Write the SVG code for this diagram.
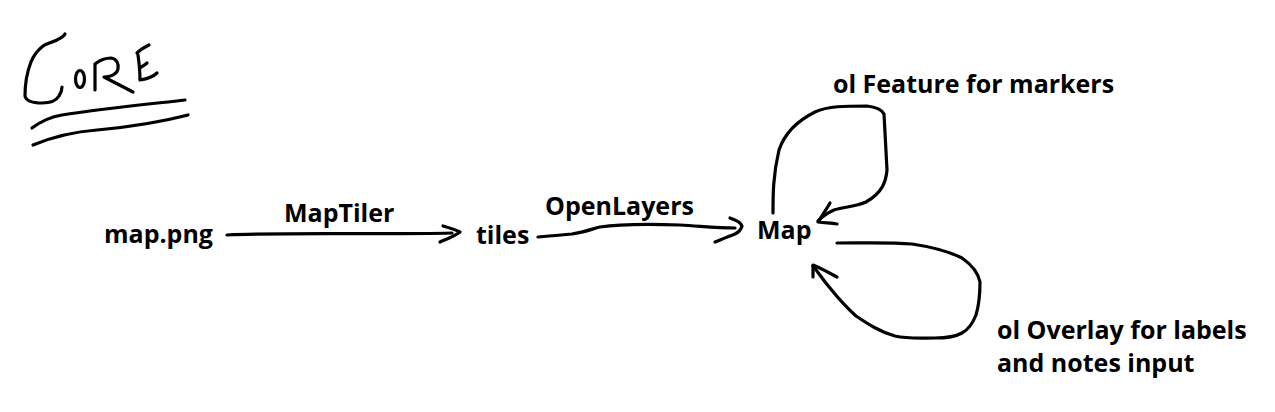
<svg xmlns="http://www.w3.org/2000/svg" width="1275" height="412" viewBox="0 0 1275 412">
<style>
.lbl{font-family:"Open Sans","Noto Sans","DejaVu Sans",sans-serif;font-weight:bold;font-size:25px;fill:#000}
.ink{fill:none;stroke:#000;stroke-width:3.2;stroke-linecap:round;stroke-linejoin:round}
</style>
<rect width="1275" height="412" fill="#fff"/>
<g id="title">
<path class="ink" d="M65,34 C62,40 50,42 43,46 C38,50 34,54 31,62 C27,72 25,82 25,96 C26,101 34,103 42,103 C50,103 56,101 59,96 C61,93 62,90 62,87"/>
<ellipse class="ink" cx="80" cy="79" rx="4.5" ry="8.5"/>
<path class="ink" d="M95,90 L95,64 C100,60 106,58 111,58 C117,59 119,64 118,69 C117,74 111,77 104,77 L133,92"/>
<path class="ink" d="M137,53 C140,50 145,47 149,45 M138,55 C139,62 140,70 140,80 C146,79 153,77 157,73 M140,68 C143,66 146,64 147,63"/>
<path class="ink" d="M32,128 C40,122 50,117 62,115 C100,109 150,104 185,100"/>
<path class="ink" d="M33,145 C50,138 70,132 97,130 C130,127 165,121 188,115"/>
</g>
<g id="node-mappng"><text class="lbl" x="104" y="243">map.png</text></g>
<g id="node-tiles"><text class="lbl" x="476" y="244">tiles</text></g>
<g id="node-map"><text class="lbl" x="757" y="239">Map</text></g>
<g id="connectors">
<path class="ink" d="M227,235 C300,232 380,235 452,233"/>
<path class="ink" d="M443,226 C450,228 456,230 460,232 C455,236 447,239 440,242"/>
<text class="lbl" x="284" y="222">MapTiler</text>
<path class="ink" d="M538,237 C550,236 562,235 572,234 C585,232 592,229 600,227 C620,224 650,224 680,225 C700,226 715,228 735,228"/>
<path class="ink" d="M730,218 C736,220 741,223 742,226 C741,230 739,232 735,234 C727,237 720,240 715,242"/>
<text class="lbl" x="545" y="215">OpenLayers</text>
<path class="ink" d="M773,213 C773,195 773,175 779,150 C784,135 795,122 815,112 C828,106 845,106 867,106 C876,107 882,110 884,114 C885,130 886,150 887,170 C886,182 882,193 866,202 C855,207 842,207 834,210 C827,213 822,217 818,221"/>
<path class="ink" d="M830,203 C826,210 821,217 818,222 C825,223 831,223 837,224"/>
<text class="lbl" x="833" y="93">ol Feature for markers</text>
<path class="ink" d="M837,243 C860,243 890,242 912,244 C932,247 950,252 962,258 C972,265 978,272 980,282 C980,295 979,305 976,315 C972,325 968,330 962,333 C955,337 945,338 935,338 C920,338 908,339 895,336 C880,332 868,324 856,316 C846,307 838,298 830,288 C823,280 818,272 813,266"/>
<path class="ink" d="M813,277 C813,273 813,269 813,265 C821,268 829,273 837,277"/>
<text class="lbl" x="997" y="339">ol Overlay for labels</text>
<text class="lbl" x="997" y="372">and notes input</text>
</g>
</svg>
